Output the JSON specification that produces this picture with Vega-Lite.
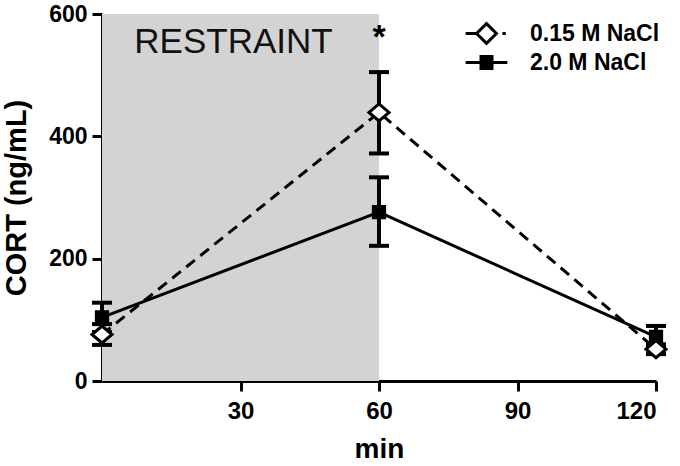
{
  "$schema": "https://vega.github.io/schema/vega-lite/v6.json",
  "width": 554,
  "height": 367,
  "autosize": {"type": "none"},
  "padding": {"left": 102, "top": 14, "right": 24, "bottom": 85},
  "background": "white",
  "config": {
    "view": {"stroke": null},
    "font": "Liberation Sans",
    "axis": {
      "domainColor": "black",
      "domainWidth": 3,
      "tickColor": "black",
      "tickWidth": 3,
      "tickSize": 10,
      "grid": false,
      "labelFont": "Liberation Sans",
      "labelFontWeight": "bold",
      "labelFontSize": 24,
      "labelColor": "black",
      "titleFont": "Liberation Sans",
      "titleFontWeight": "bold",
      "titleColor": "black"
    },
    "legend": {
      "labelFont": "Liberation Sans", "labelFontWeight": "bold", "labelFontSize": 23, "labelColor": "black",
      "symbolStrokeWidth": 3
    }
  },
  "data": {
    "values": [
      {"t": 0, "cort": 76, "lo": 59, "hi": 93, "group": "0.15 M NaCl"},
      {"t": 60, "cort": 439, "lo": 372, "hi": 505, "group": "0.15 M NaCl"},
      {"t": 120, "cort": 52, "lo": 44, "hi": 60, "group": "0.15 M NaCl"},
      {"t": 0, "cort": 104, "lo": 80, "hi": 128, "group": "2.0 M NaCl"},
      {"t": 60, "cort": 276, "lo": 221, "hi": 333, "group": "2.0 M NaCl"},
      {"t": 120, "cort": 72, "lo": 55, "hi": 90, "group": "2.0 M NaCl"}
    ]
  },
  "layer": [
    {
      "data": {"values": [{"label": "RESTRAINT"}]},
      "mark": {"type": "rect", "color": "#d3d3d3"},
      "encoding": {
        "x": {"datum": 0, "type": "quantitative"},
        "x2": {"datum": 60},
        "y": {"datum": 0, "type": "quantitative"},
        "y2": {"datum": 600}
      }
    },
    {
      "data": {"values": [{"label": "RESTRAINT"}]},
      "mark": {"type": "text", "align": "left", "baseline": "alphabetic", "fontSize": 35, "font": "Liberation Sans", "color": "#111111"},
      "encoding": {
        "x": {"datum": 7, "type": "quantitative"},
        "y": {"datum": 536, "type": "quantitative"},
        "text": {"field": "label"}
      }
    },
    {
      "data": {"values": [{"label": "*"}]},
      "mark": {"type": "text", "align": "center", "baseline": "alphabetic", "fontSize": 34, "fontWeight": "bold", "font": "Liberation Sans", "color": "black"},
      "encoding": {
        "x": {"datum": 60, "type": "quantitative"},
        "y": {"datum": 545, "type": "quantitative"},
        "text": {"field": "label"}
      }
    },
    {
      "transform": [{"filter": "datum.group == '0.15 M NaCl'"}],
      "mark": {"type": "line", "color": "black", "strokeWidth": 3, "strokeDash": [11, 7]},
      "encoding": {
        "x": {
          "field": "t", "type": "quantitative",
          "scale": {"domain": [0, 120], "nice": false, "zero": false},
          "axis": {"values": [30, 60, 90, 120], "title": "min", "titleFontSize": 28, "titlePadding": 12, "labelPadding": 8}
        },
        "y": {
          "field": "cort", "type": "quantitative",
          "scale": {"domain": [0, 600], "nice": false},
          "axis": {"values": [0, 200, 400, 600], "title": "CORT (ng/mL)", "titleFontSize": 29, "titlePadding": 17, "labelPadding": 5, "labelFontSize": 23}
        }
      }
    },
    {
      "transform": [{"filter": "datum.group == '2.0 M NaCl'"}],
      "mark": {"type": "line", "color": "black", "strokeWidth": 3},
      "encoding": {
        "x": {"field": "t", "type": "quantitative"},
        "y": {"field": "cort", "type": "quantitative"}
      }
    },
    {
      "mark": {"type": "rule", "color": "black", "strokeWidth": 4},
      "encoding": {
        "x": {"field": "t", "type": "quantitative"},
        "y": {"field": "lo", "type": "quantitative"},
        "y2": {"field": "hi"}
      }
    },
    {
      "mark": {"type": "tick", "orient": "horizontal", "color": "black", "thickness": 4, "size": 20, "opacity": 1},
      "encoding": {
        "x": {"field": "t", "type": "quantitative"},
        "y": {"field": "lo", "type": "quantitative"}
      }
    },
    {
      "mark": {"type": "tick", "orient": "horizontal", "color": "black", "thickness": 4, "size": 20, "opacity": 1},
      "encoding": {
        "x": {"field": "t", "type": "quantitative"},
        "y": {"field": "hi", "type": "quantitative"}
      }
    },
    {
      "transform": [{"filter": "datum.group == '2.0 M NaCl'"}],
      "mark": {"type": "point", "shape": "square", "filled": true, "fill": "black", "stroke": "black", "strokeWidth": 2, "size": 150, "opacity": 1},
      "encoding": {
        "x": {"field": "t", "type": "quantitative"},
        "y": {"field": "cort", "type": "quantitative"}
      }
    },
    {
      "transform": [{"filter": "datum.group == '0.15 M NaCl'"}],
      "mark": {"type": "point", "shape": "M-1,0L0,-0.85L1,0L0,0.85Z", "filled": true, "fill": "white", "stroke": "black", "strokeWidth": 3, "size": 400, "opacity": 1},
      "encoding": {
        "x": {"field": "t", "type": "quantitative"},
        "y": {"field": "cort", "type": "quantitative"}
      }
    },
    {
      "mark": {"type": "point", "filled": true, "strokeWidth": 3, "size": 484, "opacity": 0},
      "encoding": {
        "x": {"field": "t", "type": "quantitative"},
        "y": {"field": "cort", "type": "quantitative"},
        "shape": {
          "field": "group", "type": "nominal",
          "scale": {
            "domain": ["0.15 M NaCl", "2.0 M NaCl"],
            "range": [
              "M-1.9,0L-0.9,0M0,-0.9L0.9,0L0,0.9L-0.9,0ZM1.45,0L1.75,0",
              "M-1.9,0L1.9,0M-0.5,-0.55L0.5,-0.55L0.5,0.55L-0.5,0.55Z"
            ]
          },
          "legend": {
            "orient": "none", "legendX": 372, "legendY": 7, "title": null, "padding": 0,
            "labelOffset": 31, "symbolSize": 484, "symbolOpacity": 1, "rowPadding": 0
          }
        },
        "fill": {
          "field": "group", "type": "nominal",
          "scale": {"domain": ["0.15 M NaCl", "2.0 M NaCl"], "range": ["white", "black"]},
          "legend": {
            "orient": "none", "legendX": 372, "legendY": 7, "title": null, "padding": 0,
            "labelOffset": 31, "symbolSize": 484, "symbolOpacity": 1, "rowPadding": 0
          }
        },
        "stroke": {
          "field": "group", "type": "nominal",
          "scale": {"domain": ["0.15 M NaCl", "2.0 M NaCl"], "range": ["black", "black"]},
          "legend": {
            "orient": "none", "legendX": 372, "legendY": 7, "title": null, "padding": 0,
            "labelOffset": 31, "symbolSize": 484, "symbolOpacity": 1, "rowPadding": 0
          }
        }
      }
    }
  ]
}
